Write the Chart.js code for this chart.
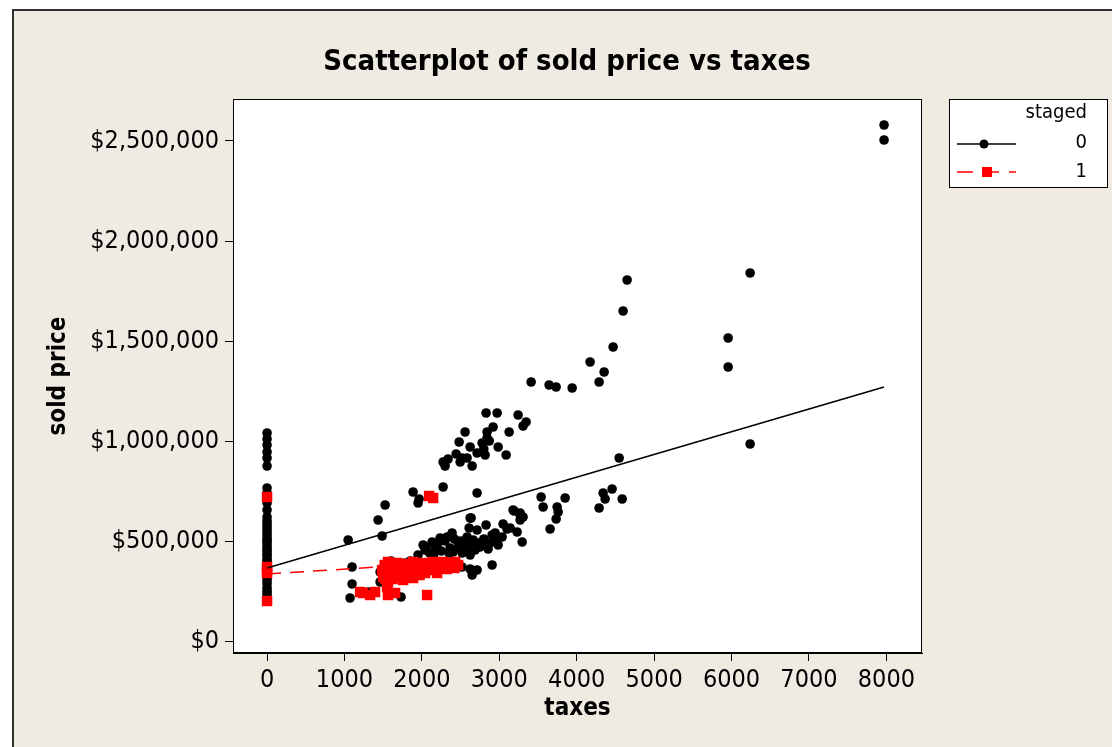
<!DOCTYPE html>
<html>
<head>
<meta charset="utf-8">
<script src="https://cdn.jsdelivr.net/npm/chart.js@4.4.1/dist/chart.umd.min.js"></script>
<style>
  html, body { margin: 0; padding: 0; background: #fff; }
  #wrap { width: 1112px; height: 747px; }
</style>
</head>
<body>
<div id="wrap"><canvas id="scatter" width="1112" height="747"></canvas></div>
<script>
// staged = 0
var taxes0 = [0, 0, 0, 0, 0, 0, 0, 0, 0, 0, 0, 0, 0, 0, 0, 0, 0, 0, 0, 0, 0, 0, 0, 0,
  0, 0, 0, 0, 0, 0, 0, 0, 0, 0, 0, 0, 0, 0, 0, 0, 0,
  1047, 1098, 1098, 1072, 1434, 1525, 1486, 1305, 1460, 1731, 1886, 1951, 1964, 2274, 2713, 2623, 2713, 2649, 2907, 2519, 1640, 1780, 2430,
  2829, 2972, 3243, 3346, 3307, 2558, 2920, 2842, 3127, 2481, 2623, 2842, 2778, 2985, 2713, 2817, 2442, 2519, 2584, 3088, 2274, 2338, 2300, 2494, 2649, 2800, 2870,
  7970, 7970, 6240, 5956, 5956, 6240, 4651, 4599, 4470, 4173, 4354, 4289, 3643, 3734, 3941, 3411,
  4548, 3540, 3566, 3850, 3747, 3760, 3734, 3656, 4341, 4457, 4367, 4587, 4289, 3307, 3178, 3269, 2636,
  2623, 2610, 2713, 2829, 3049, 3191, 3269, 3269, 3140, 3230, 3295, 2946, 3036, 2881, 2778, 2662, 2584, 2390, 2326, 2235, 2132, 2016, 2041, 2171,
  2364, 2468, 2468, 2584, 2687, 2713, 2855, 2985, 2907, 2403, 2519, 2623, 2250, 2100, 1950, 1850, 1700, 2300, 2550, 2750, 1460, 1600,
  2050, 2200, 2280, 2420, 2500, 2600, 2650, 2800, 2950, 3100, 2150, 2350];
var price0 = [1040000, 1010000, 980000, 945000, 915000, 875000, 765000, 730000, 690000, 655000, 620000, 585000, 555000, 525000, 500000, 475000, 450000, 425000, 400000, 375000, 345000, 315000, 265000, 225000,
  740000, 710000, 600000, 570000, 540000, 510000, 490000, 460000, 435000, 410000, 390000, 360000, 330000, 300000, 285000, 250000, 240000,
  505000, 370000, 285000, 215000, 605000, 680000, 525000, 245000, 295000, 220000, 745000, 690000, 710000, 770000, 740000, 360000, 355000, 330000, 380000, 370000, 380000, 390000, 380000,
  1140000, 1140000, 1130000, 1095000, 1075000, 1045000, 1070000, 1045000, 1045000, 995000, 970000, 1015000, 990000, 970000, 940000, 930000, 935000, 915000, 915000, 930000, 895000, 910000, 875000, 895000, 875000, 960000, 1000000,
  2580000, 2505000, 1840000, 1515000, 1370000, 985000, 1805000, 1650000, 1470000, 1395000, 1345000, 1295000, 1280000, 1270000, 1265000, 1295000,
  915000, 720000, 670000, 715000, 670000, 645000, 610000, 560000, 740000, 760000, 710000, 710000, 665000, 620000, 655000, 630000, 615000,
  615000, 565000, 555000, 580000, 585000, 650000, 640000, 605000, 565000, 545000, 495000, 540000, 520000, 490000, 495000, 505000, 520000, 540000, 520000, 515000, 495000, 480000, 455000, 470000,
  465000, 465000, 495000, 455000, 455000, 490000, 460000, 480000, 530000, 445000, 440000, 430000, 450000, 440000, 430000, 400000, 390000, 500000, 480000, 470000, 345000, 400000,
  470000, 485000, 505000, 510000, 500000, 470000, 495000, 510000, 505000, 560000, 430000, 440000];

// staged = 1
var taxes1 = [0, 0, 0, 0, 0, 2093, 2145,
  1563, 1680, 1886, 2016, 2145, 2274, 2429,
  1486, 1615, 1744, 1848, 1977, 2106, 2261, 2364, 2468,
  1499, 1654, 1783, 1912, 2041, 2196,
  1886, 1757, 1563, 1550, 1563, 1563, 1654,
  1202, 1240, 1331, 1395, 2067,
  2320, 2400, 1700, 1830, 1950, 1620,
  1520, 1590, 1720, 1800, 1880, 1940, 2060, 2180, 2230, 2330, 2420, 1680, 1830, 1970, 1530, 2000, 2140];
var price1 = [720000, 370000, 355000, 340000, 200000, 725000, 715000,
  395000, 390000, 395000, 390000, 395000, 395000, 395000,
  355000, 365000, 355000, 365000, 370000, 370000, 375000, 375000, 380000,
  320000, 330000, 330000, 340000, 340000, 340000,
  315000, 305000, 295000, 270000, 240000, 230000, 240000,
  245000, 240000, 230000, 245000, 230000,
  360000, 385000, 345000, 350000, 355000, 310000,
  380000, 350000, 375000, 385000, 375000, 385000, 380000, 385000, 365000, 390000, 365000, 320000, 325000, 330000, 310000, 360000, 355000];

// fitted lines as drawn in the picture (ends)
var fitTaxes0 = [0, 7970];
var fitPrice0 = [365000, 1270000];
var fitTaxes1 = [0, 2450];
var fitPrice1 = [335000, 395000];

var taxTicks = [0, 1000, 2000, 3000, 4000, 5000, 6000, 7000, 8000];
var priceTicks = [0, 500000, 1000000, 1500000, 2000000, 2500000];
var groups = ['0', '1'];

function pairs(xs, ys) {
    return xs.map(function (x, i) { return { x: x, y: ys[i] }; });
}

var FONT = '"DejaVu Sans Condensed", "DejaVu Sans", sans-serif';

var framePlugin = {
    id: 'frame',
    beforeDraw: function (chart) {
        var c = chart.ctx;
        var a = chart.chartArea;
        c.save();
        c.fillStyle = '#ffffff';
        c.fillRect(0, 0, chart.width, chart.height);
        c.fillStyle = '#efebe2';
        c.fillRect(12, 9, chart.width - 12, chart.height - 9);
        c.strokeStyle = '#303030';
        c.lineWidth = 2;
        c.beginPath();
        c.moveTo(13, chart.height);
        c.lineTo(13, 10);
        c.lineTo(chart.width, 10);
        c.stroke();
        c.fillStyle = '#ffffff';
        c.fillRect(a.left, a.top, a.right - a.left, a.bottom - a.top);
        c.restore();
    },
    afterDraw: function (chart) {
        var c = chart.ctx;
        var a = chart.chartArea;
        c.save();
        c.strokeStyle = '#000';
        c.lineWidth = 1;
        c.strokeRect(a.left + 0.5, a.top + 0.5, a.right - a.left - 1, a.bottom - a.top - 1);

        // title
        c.fillStyle = '#000';
        c.font = 'bold 29px ' + FONT;
        c.textAlign = 'center';
        c.textBaseline = 'middle';
        c.fillText('Scatterplot of sold price vs taxes', 567, 62);

        // legend box
        var lx = 949, ly = 99, lw = 158, lh = 88;
        c.fillStyle = '#fff';
        c.fillRect(lx, ly, lw, lh);
        c.strokeRect(lx + 0.5, ly + 0.5, lw, lh);
        c.fillStyle = '#000';
        c.font = '20px ' + FONT;
        c.textAlign = 'right';
        c.fillText('staged', 1087, 113);
        c.fillText(groups[0], 1087, 143);
        c.fillText(groups[1], 1087, 172);
        c.lineWidth = 1.5;
        c.beginPath();
        c.moveTo(957, 144);
        c.lineTo(1016, 144);
        c.stroke();
        c.beginPath();
        c.arc(984, 144, 4.5, 0, Math.PI * 2);
        c.fill();
        c.strokeStyle = '#ff0000';
        c.setLineDash([16, 10]);
        c.beginPath();
        c.moveTo(957, 172);
        c.lineTo(1016, 172);
        c.stroke();
        c.setLineDash([]);
        c.fillStyle = '#ff0000';
        c.fillRect(982, 167, 10, 10);
        c.restore();
    }
};

var ctx = document.getElementById('scatter').getContext('2d');
var myChart = new Chart(ctx, {
    type: 'scatter',
    data: {
        datasets: [{
            label: groups[0],
            data: pairs(taxes0, price0),
            backgroundColor: '#000',
            borderColor: '#000',
            pointStyle: 'circle',
            pointRadius: 4.8,
            borderWidth: 0,
            order: 3
        }, {
            label: groups[1],
            data: pairs(taxes1, price1),
            backgroundColor: '#ff0000',
            borderColor: '#ff0000',
            pointStyle: 'rect',
            pointRadius: 7.4,
            borderWidth: 0,
            order: 2
        }, {
            type: 'line',
            label: 'fit0',
            data: pairs(fitTaxes0, fitPrice0),
            borderColor: '#000',
            borderWidth: 1.5,
            pointRadius: 0,
            fill: false,
            order: 1
        }, {
            type: 'line',
            label: 'fit1',
            data: pairs(fitTaxes1, fitPrice1),
            borderColor: '#ff0000',
            borderWidth: 1.5,
            borderDash: [14, 9],
            pointRadius: 0,
            fill: false,
            order: 0
        }]
    },
    options: {
        responsive: false,
        animation: false,
        layout: { padding: { top: 99, left: 40, right: 190, bottom: 22 } },
        plugins: {
            legend: { display: false },
            title: { display: false },
            tooltip: { enabled: false }
        },
        scales: {
            x: {
                type: 'linear',
                min: -440,
                max: 8460,
                afterBuildTicks: function (s) { s.ticks = taxTicks.map(function (v) { return { value: v }; }); },
                afterFit: function (s) { s.height = 72; },
                grid: { drawOnChartArea: false, drawTicks: true, tickLength: 8, color: '#000' },
                border: { display: true, color: '#000' },
                ticks: {
                    color: '#000',
                    font: { family: FONT, size: 25 },
                    padding: 4,
                    maxRotation: 0,
                    callback: function (v) { return String(v); }
                },
                title: {
                    display: true,
                    text: 'taxes',
                    color: '#000',
                    font: { family: FONT, size: 24, weight: 'bold' },
                    padding: 2
                }
            },
            y: {
                type: 'linear',
                min: -60000,
                max: 2710000,
                afterBuildTicks: function (s) { s.ticks = priceTicks.map(function (v) { return { value: v }; }); },
                afterFit: function (s) { s.width = 193; },
                grid: { drawOnChartArea: false, drawTicks: true, tickLength: 8, color: '#000' },
                border: { display: true, color: '#000' },
                ticks: {
                    color: '#000',
                    font: { family: FONT, size: 25 },
                    padding: 6,
                    callback: function (v) { return '$' + v.toLocaleString('en-US'); }
                },
                title: {
                    display: true,
                    text: 'sold price',
                    color: '#000',
                    font: { family: FONT, size: 24, weight: 'bold' },
                    padding: 4
                }
            }
        }
    },
    plugins: [framePlugin]
});
</script>
</body>
</html>
